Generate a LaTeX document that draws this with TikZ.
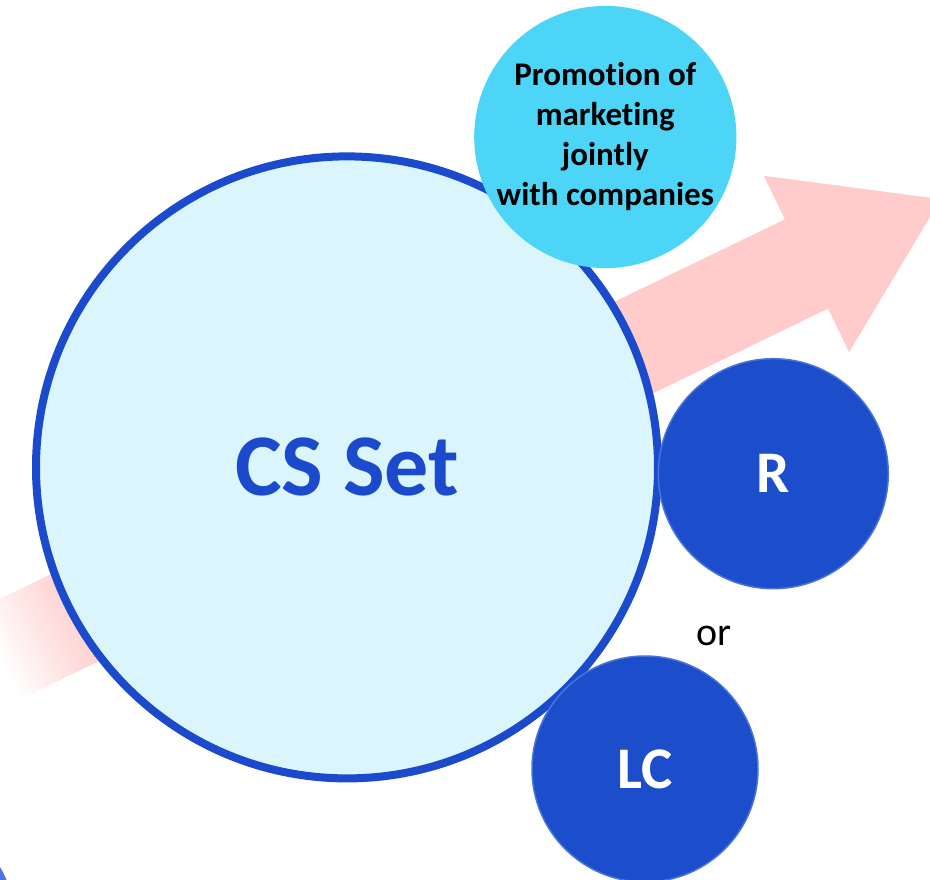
\documentclass[tikz,border=0pt]{standalone}
\usepackage{fontspec}
\setmainfont[Ligatures=NoCommon]{Carlito}
\definecolor{csfill}{HTML}{DAF6FC}
\definecolor{csblue}{HTML}{1B4BCC}
\definecolor{promofill}{HTML}{4DD5F8}
\definecolor{dotblue}{HTML}{1C4ECC}
\definecolor{dotrim}{HTML}{4A74D9}
\definecolor{arrowpink}{HTML}{FFCBCB}
\definecolor{cornerblue}{HTML}{4C72E6}
\tikzset{
	setnode/.style={circle, inner sep=0pt, minimum size=622pt, fill=csfill, draw=csblue, line width=8pt, text=csblue, font=\bfseries\fontsize{88}{100}\selectfont},
	promonode/.style={circle, inner sep=0pt, minimum size=259pt, fill=promofill, align=center, font=\bfseries\fontsize{33}{40}\selectfont},
	dotnode/.style={circle, inner sep=0pt, fill=dotblue, draw=dotrim, line width=1.5pt, text=white, font=\bfseries\fontsize{59}{70}\selectfont},
	ornode/.style={inner sep=0pt, font=\fontsize{40}{48}\selectfont}
}
\begin{document}
\begin{tikzpicture}[x=1pt, y=-1pt]
		\useasboundingbox (0,0) rectangle (930,880);
		\clip (0,0) rectangle (930,880);
		\fill[white] (0,0) rectangle (930,880);
		\fill[cornerblue] (-86,918) circle[radius=100];

		\begin{scope}[shift={(806.5,264)}, rotate=25.8]
			\fill[arrowpink] (-800,-49.6) -- (0,-49.6) -- (0,-98) -- (149,0) -- (0,98) -- (0,49.6) -- (-800,49.6) -- cycle;
			\foreach \i [evaluate=\i as \op using \i/20] in {0,...,19}
				\fill[arrowpink, opacity=\op] (-900+5*\i,-49.6) rectangle (-895+5*\i,49.6);
		\end{scope}

		\node[setnode] (cs) at (347,467.4) {CS Set};
		\node[promonode] (promo) at (605.3,137) {Promotion of\\marketing\\jointly\\with companies};
		\node[dotnode, minimum size=230pt] (r) at (773.3,473.7) {R};
		\node[dotnode, minimum size=226pt] (lc) at (645,769) {LC};
		\node[ornode] (or) at (714,636) {or};
	\end{tikzpicture}
\end{document}
